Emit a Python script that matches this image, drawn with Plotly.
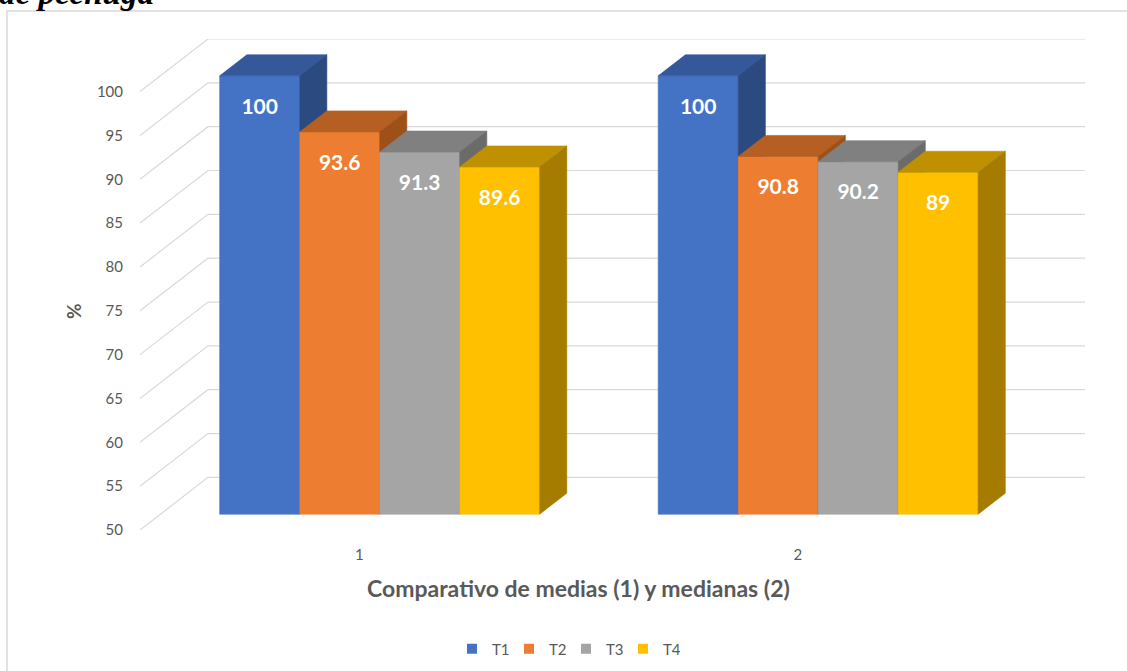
import plotly.graph_objects as go

# ---------------- data ----------------
categories = [1, 2]
category_labels = ["1", "2"]
series_names = ["T1", "T2", "T3", "T4"]
t1_values = [100, 100]
t2_values = [93.6, 90.8]
t3_values = [91.3, 90.2]
t4_values = [89.6, 89]
y_tick_values = [50, 55, 60, 65, 70, 75, 80, 85, 90, 95, 100]
y_tick_labels = ["50", "55", "60", "65", "70", "75", "80", "85", "90", "95", "100"]
x_title = "Comparativo de medias (1) y medianas (2)"
y_title = "%"
top_fragment = "de pechuga"

series_values = [t1_values, t2_values, t3_values, t4_values]

# ---------------- style ----------------
front_colors = ["#4472C4", "#ED7D31", "#A5A5A5", "#FFC000"]
top_colors = ["#34589A", "#B65F22", "#808080", "#BF9000"]
side_colors = ["#2B4A80", "#9E5019", "#6B6B6B", "#A67C00"]
FONT = "Lato, Calibri, Carlito, sans-serif"
TXT = "#595959"
GRID = "#D9D9D9"

W, H = 1127, 671
ML, MR, MT, MB = 140, 42, 39, 141
Y_MIN = 50
DX = 0.155   # full depth projection (x units)
DY = 6.0     # full depth projection (value units)
D0 = 0.30    # depth of bar front faces
D1 = 0.40    # bar thickness (depth)
BAR_W = 0.1824
X_MIN, X_MAX = 0.5, 2.5
Y_MAX = max(y_tick_values) + DY

pw = W - ML - MR
ph = H - MT - MB


def px_x(p):
    return (p - ML) / pw


def px_y(p):
    return (H - MB - p) / ph


fig = go.Figure()

# walls gridlines (side wall diagonals + back wall horizontals)
gx, gy = [], []
for v in y_tick_values:
    gx += [X_MIN, X_MIN + DX, X_MAX + DX, None]
    gy += [v, v + DY, v + DY, None]
fig.add_trace(go.Scatter(x=gx, y=gy, mode="lines", line=dict(color=GRID, width=1.2),
                         hoverinfo="skip", showlegend=False))


def face(xs, ys, color):
    return go.Scatter(x=xs + [xs[0]], y=ys + [ys[0]], mode="lines", fill="toself",
                      fillcolor=color, line=dict(color=color, width=0.6),
                      hoverinfo="skip", showlegend=False)


lab_x, lab_y, lab_t = [], [], []
n = len(series_values)
for ci, c in enumerate(categories):
    for si, vals in enumerate(series_values):
        v = vals[ci]
        xl = c + D0 * DX + (si - n / 2) * BAR_W
        xr = xl + BAR_W
        b = Y_MIN + D0 * DY
        t = v + D0 * DY
        ox, oy = D1 * DX, D1 * DY
        fig.add_trace(face([xl, xr, xr, xl], [b, b, t, t], front_colors[si]))
        fig.add_trace(face([xl, xr, xr + ox, xl + ox], [t, t, t + oy, t + oy], top_colors[si]))
        fig.add_trace(face([xr, xr + ox, xr + ox, xr], [b, b + oy, t + oy, t], side_colors[si]))
        lab_x.append((xl + xr) / 2)
        lab_y.append(t - 3.7)
        lab_t.append(f"{v:g}")

fig.add_trace(go.Scatter(x=lab_x, y=lab_y, text=lab_t, mode="text",
                         textfont=dict(family=FONT, size=21, color="white", weight="bold"),
                         hoverinfo="skip", showlegend=False))

# legend entries
for si, name in enumerate(series_names):
    fig.add_trace(go.Scatter(x=[None], y=[None], mode="markers", name=name,
                             marker=dict(symbol="square", size=10, color=front_colors[si])))

# frame border
fig.add_shape(type="rect", xref="paper", yref="paper",
              x0=px_x(7), x1=px_x(W + 20), y0=px_y(H + 20), y1=px_y(11),
              line=dict(color="#D9D9D9", width=1.5), fillcolor="rgba(0,0,0,0)", layer="below")

annotations = [
    dict(text=f"<b>{x_title}</b>", x=(X_MIN + X_MAX) / 2, xref="x", y=px_y(588), yref="paper",
         showarrow=False, font=dict(family=FONT, size=23, color=TXT), xanchor="center", yanchor="middle"),
    dict(text=f"<b>{y_title}</b>", x=px_x(73), xref="paper", y=px_y(311), yref="paper",
         showarrow=False, textangle=-90, font=dict(family=FONT, size=19, color=TXT),
         xanchor="center", yanchor="middle"),
    dict(text=f"<b><i>{top_fragment}</i></b>", x=px_x(-3), xref="paper", y=px_y(-7), yref="paper",
         showarrow=False, font=dict(family="Liberation Serif, serif", size=33, color="#000000"),
         xanchor="left", yanchor="middle"),
]

fig.update_layout(
    width=W, height=H,
    margin=dict(l=ML, r=MR, t=MT, b=MB, pad=0, autoexpand=False),
    paper_bgcolor="white", plot_bgcolor="white",
    font=dict(family=FONT, color=TXT),
    xaxis=dict(range=[X_MIN, X_MAX + DX], tickvals=categories, ticktext=category_labels,
               showgrid=False, zeroline=False, showline=False, ticks="",
               tickfont=dict(family=FONT, size=15, color=TXT), ticklabelstandoff=14,
               fixedrange=True, automargin=False),
    yaxis=dict(range=[Y_MIN, Y_MAX], tickvals=y_tick_values, ticktext=y_tick_labels,
               showgrid=False, zeroline=False, showline=False, ticks="",
               tickfont=dict(family=FONT, size=15, color=TXT), ticklabelstandoff=16,
               fixedrange=True, automargin=False),
    legend=dict(orientation="h", x=px_x(566), xanchor="center", y=px_y(649), yanchor="middle",
                font=dict(family=FONT, size=15, color=TXT), itemwidth=30,
                entrywidth=12, entrywidthmode="pixels",
                bgcolor="rgba(0,0,0,0)"),
    annotations=annotations,
    showlegend=True,
)

fig.write_html("out.html")
